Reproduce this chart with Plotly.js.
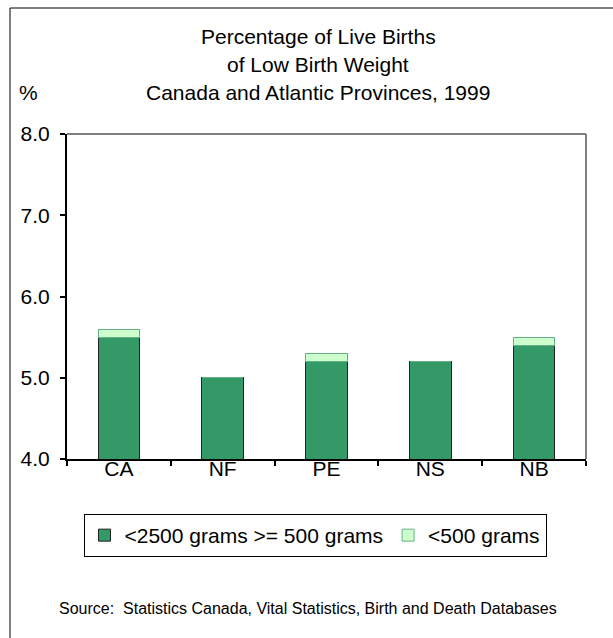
<!DOCTYPE html>
<html>
<head>
<meta charset="utf-8">
<script src="https://cdn.plot.ly/plotly-3.0.1.min.js"></script>
<style>html,body{margin:0;padding:0;background:#fff;}</style>
</head>
<body>
<div id="chart" style="width:613px;height:638px;"></div>
<script>
const categories = ["CA", "NF", "PE", "NS", "NB"];
const under2500 = [5.5, 5.0, 5.2, 5.2, 5.4];
const under500 = [0.1, 0.0, 0.1, 0.0, 0.1];
const seriesNames = ["<2500 grams >= 500 grams", "<500 grams"];
const yTicks = [4, 5, 6, 7, 8];

const W = 613, H = 638;
const L = 67, R = 586, T = 134, B = 459;
const pw = R - L, ph = B - T;
const px = x => (x - L) / pw;
const py = y => (B - y) / ph;
const FONT = "Liberation Sans, Arial, sans-serif";
const FS = 21;

const traces = [
  {type: "bar", x: categories, y: under2500, name: seriesNames[0],
   marker: {color: "#339966", line: {color: "#222", width: 1}}},
  {type: "bar", x: categories, y: under500, name: seriesNames[1],
   marker: {color: "#CCFFCC", line: {color: "#66b088", width: 1}}}
];

const layout = {
  width: W, height: H,
  margin: {l: L, r: W - R, t: T, b: H - B, pad: 0},
  paper_bgcolor: "#fff", plot_bgcolor: "#fff",
  font: {family: FONT, size: FS, color: "#000"},
  barmode: "stack", bargap: 0.6,
  showlegend: true,
  legend: {orientation: "h", x: px(315), y: py(514), xanchor: "center", yanchor: "top",
           bordercolor: "#000", borderwidth: 1, font: {size: FS, family: FONT},
           itemwidth: 30, tracegroupgap: 0, traceorder: "normal"},
  xaxis: {type: "category", showline: true, linecolor: "#000", linewidth: 2,
          ticks: "outside", ticklen: 5, tickcolor: "#000", tickwidth: 2,
          tickson: "boundaries", showgrid: false, zeroline: false,
          ticklabelstandoff: -10,
          tickfont: {size: FS}, fixedrange: true},
  yaxis: {range: [4, 8], tickvals: yTicks, ticktext: yTicks.map(v => v.toFixed(1)),
          showline: true, linecolor: "#000", linewidth: 2,
          ticks: "outside", ticklen: 5, tickcolor: "#000", tickwidth: 2,
          ticklabelstandoff: 6,
          showgrid: false, zeroline: false, tickfont: {size: FS}, fixedrange: true},
  shapes: [
    {type: "line", xref: "paper", yref: "paper", x0: 0, x1: 1, y0: 1, y1: 1,
     line: {color: "#808080", width: 2}},
    {type: "line", xref: "paper", yref: "paper", x0: 1, x1: 1, y0: 0, y1: 1,
     line: {color: "#808080", width: 2}},
    {type: "line", xref: "paper", yref: "paper", x0: px(10), x1: px(10), y0: py(8), y1: py(640),
     line: {color: "#000", width: 1}},
    {type: "line", xref: "paper", yref: "paper", x0: px(10), x1: px(615), y0: py(8), y1: py(8),
     line: {color: "#000", width: 1}}
  ],
  annotations: [
    {text: "Percentage of Live Births", xref: "paper", yref: "paper", x: px(318), y: py(37),
     showarrow: false, xanchor: "center", yanchor: "middle", font: {size: FS}},
    {text: "of Low Birth Weight", xref: "paper", yref: "paper", x: px(318), y: py(64),
     showarrow: false, xanchor: "center", yanchor: "middle", font: {size: FS}},
    {text: "Canada and Atlantic Provinces, 1999", xref: "paper", yref: "paper", x: px(318), y: py(92),
     showarrow: false, xanchor: "center", yanchor: "middle", font: {size: FS}},
    {text: "%", xref: "paper", yref: "paper", x: px(28), y: py(92),
     showarrow: false, xanchor: "center", yanchor: "middle", font: {size: FS}},
    {text: "Source:  Statistics Canada, Vital Statistics, Birth and Death Databases",
     xref: "paper", yref: "paper", x: px(308), y: py(608),
     showarrow: false, xanchor: "center", yanchor: "middle", font: {size: 16}}
  ]
};

Plotly.newPlot("chart", traces, layout, {displayModeBar: false, staticPlot: true});
</script>
</body>
</html>
